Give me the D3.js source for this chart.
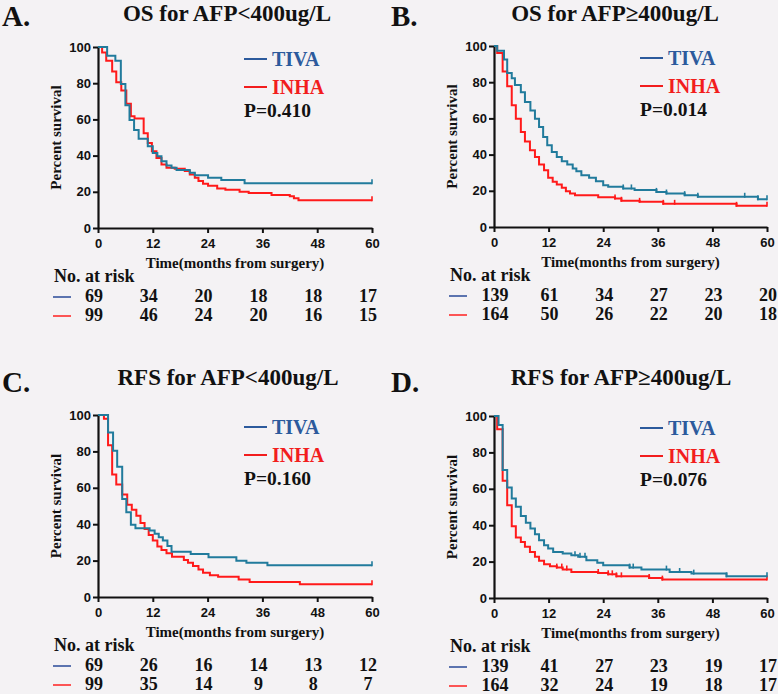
<!DOCTYPE html>
<html>
<head>
<meta charset="utf-8">
<script src="https://cdn.jsdelivr.net/npm/d3@7"></script>
<style>
  body { margin: 0; background: #f4f2f4; }
  svg { display: block; }
</style>
</head>
<body>
<div id="chart"></div>
<script>
var width  = 778;
var height = 694;

// Axis ticks shared by all four panels
var timeTicks = [0, 12, 24, 36, 48, 60];
var survTicks = [0, 20, 40, 60, 80, 100];
var groups = ["TIVA", "INHA"];

var panelLetters = ["A.", "B.", "C.", "D."];
var panelTitles = ["OS for AFP<400ug/L", "OS for AFP\u2265400ug/L",
                   "RFS for AFP<400ug/L", "RFS for AFP\u2265400ug/L"];
var pValues = ["P=0.410", "P=0.014", "P=0.160", "P=0.076"];

// Kaplan-Meier steps: [month, percent survival from that month on]
var osLowTiva = [[0,100],[2.0,95.1],[3.8,92.4],[5.0,79.6],[6.0,67.8],[6.9,59.6],
  [7.9,54.2],[8.9,49.3],[10.9,45.1],[12.0,41.5],[13.0,39.6],[13.9,36.9],[15.0,34.5],
  [16.1,33.3],[17.2,32.0],[20.1,30.5],[21.2,29.1],[24.1,27.8],[27.0,26.5],[32.1,24.7]];
var osLowInha = [[0,100],[0.9,96.9],[1.8,92.4],[3.1,86.5],[4.0,80.5],[5.1,76.0],
  [6.2,68.7],[7.2,61.8],[8.0,60.5],[10.0,52.4],[10.9,46.9],[11.8,42.4],[12.8,38.7],
  [13.9,35.1],[15.0,33.3],[16.8,32.7],[19.0,31.5],[20.1,29.6],[21.2,27.8],[22.0,26.0],
  [23.0,24.5],[24.1,23.3],[26.1,21.8],[27.9,21.1],[31.0,20.0],[33.0,19.3],[38.0,18.2],
  [42.0,17.5],[42.9,16.4],[43.9,15.3]];
var osHighTiva = [[0,100],[0.7,97.4],[2.2,92.5],[2.9,85.1],[3.9,82.2],[4.6,78.5],
  [5.9,74.5],[6.8,69.0],[8.0,64.4],[9.0,59.8],[9.9,55.2],[10.8,49.7],[11.7,45.1],
  [12.7,41.5],[13.8,38.7],[14.9,36.3],[16.1,34.5],[17.3,32.3],[18.1,30.8],[19.2,28.6],
  [20.9,27.2],[22.4,25.3],[24.0,23.1],[25.1,22.2],[28.4,21.3],[30.9,20.4],[35.7,19.4],
  [37.9,18.5],[41.9,17.6],[44.8,16.7],[58.0,15.4]];
var osHighInha = [[0,100],[0.7,96.1],[1.9,85.9],[2.9,77.8],[3.9,67.2],[4.8,59.8],
  [5.9,52.5],[6.8,47.3],[7.9,42.4],[9.0,38.7],[9.9,34.5],[11.0,31.4],[11.9,27.2],
  [12.9,25.0],[13.8,23.5],[14.9,21.7],[15.8,19.8],[16.7,18.5],[17.8,17.6],[22.9,16.5],
  [26.6,15.8],[28.0,14.5],[32.0,13.9],[37.2,12.8],[53.3,11.7]];
var rfsLowTiva = [[0,100],[2.2,90.4],[3.3,80.3],[4.2,71.6],[5.3,53.9],[6.2,46.5],
  [7.2,39.7],[8.2,37.8],[11.3,36.5],[12.4,34.7],[13.3,32.8],[14.2,31.0],[15.2,28.0],
  [16.1,24.9],[20.3,23.6],[24.2,21.8],[30.3,19.9],[32.5,18.8],[37.1,17.5]];
var rfsLowInha = [[0,100],[1.3,98.0],[2.2,83.4],[3.1,67.3],[4.0,61.8],[5.3,56.3],
  [6.4,50.7],[7.4,48.0],[8.4,44.6],[9.3,40.6],[10.2,37.3],[11.1,34.1],[12.0,31.0],
  [13.0,27.7],[13.9,25.8],[15.0,24.0],[16.2,22.1],[18.8,20.3],[19.7,18.8],[20.8,17.0],
  [22.0,15.1],[23.0,13.3],[24.5,12.0],[26.3,11.1],[30.8,9.6],[33.2,8.3],[44.2,7.0]];
var rfsHighTiva = [[0,100],[1.0,95.0],[1.9,70.3],[2.9,60.7],[3.9,54.7],[4.8,50.1],
  [5.9,45.0],[7.0,41.3],[8.0,38.2],[9.0,35.0],[9.9,31.7],[11.0,29.0],[11.9,27.2],
  [13.0,25.3],[15.1,24.4],[17.0,23.5],[18.5,22.6],[20.3,20.7],[22.7,19.3],[24.0,18.0],
  [29.8,16.7],[32.4,15.6],[38.6,14.3],[43.4,13.4],[51.1,11.9]];
var rfsHighInha = [[0,100],[0.7,92.7],[1.9,64.4],[2.9,51.0],[3.9,39.4],[4.8,33.2],
  [5.9,30.8],[6.8,28.1],[7.9,25.3],[9.0,22.6],[9.9,20.4],[11.0,18.5],[12.3,17.4],
  [13.8,16.7],[15.1,15.6],[17.0,14.3],[22.9,13.8],[25.1,13.0],[26.9,11.9],[34.1,11.0],
  [37.0,10.1]];

// Censoring marks (months)
var osLowTivaCens  = [60];
var osLowInhaCens  = [60];
var osHighTivaCens = [28.4, 30.2, 35.7, 37.9, 41.9, 44.8, 55.1, 58.0, 60];
var osHighInhaCens = [26.6, 28.0, 32.0, 37.2, 39.7, 53.3, 60];
var rfsLowTivaCens = [60];
var rfsLowInhaCens = [60];
var rfsHighTivaCens = [17.8, 18.9, 20.0, 29.8, 30.6, 37.9, 40.8, 43.9, 51.1, 60];
var rfsHighInhaCens = [13.8, 14.9, 16.0, 22.9, 25.1, 26.0, 26.9, 28.0, 34.1, 37.0, 60];

// Numbers at risk at each time tick
var osLowRisk   = [[69, 34, 20, 18, 18, 17], [99, 46, 24, 20, 16, 15]];
var osHighRisk  = [[139, 61, 34, 27, 23, 20], [164, 50, 26, 22, 20, 18]];
var rfsLowRisk  = [[69, 26, 16, 14, 13, 12], [99, 35, 14, 9, 8, 7]];
var rfsHighRisk = [[139, 41, 27, 23, 19, 17], [164, 32, 24, 19, 18, 17]];

var curveColor = ["#217b9c", "#ff1a1a"];
var legendColor = ["#2c5a9c", "#f21d1d"];
var riskColor = ["#2a4a98", "#ff2020"];

var serif = "'Liberation Serif', 'Times New Roman', serif";
var sans = "'Liberation Sans', Arial, sans-serif";

// Plot frames (pixels): left, right, top, bottom plus text placement
var panels = [
  { l: 98,  r: 372, t: 47,  b: 228, lx: 2,   ly: 26,  tx: 227, ty: 21,  ndx: -4,
    curves: [osLowTiva, osLowInha], cens: [osLowTivaCens, osLowInhaCens], risk: osLowRisk },
  { l: 494, r: 767, t: 46,  b: 227, lx: 391, ly: 26,  tx: 615, ty: 21,  ndx: 1,
    curves: [osHighTiva, osHighInha], cens: [osHighTivaCens, osHighInhaCens], risk: osHighRisk },
  { l: 98,  r: 372, t: 415, b: 597, lx: 2,   ly: 392, tx: 228, ty: 385, ndx: -4,
    curves: [rfsLowTiva, rfsLowInha], cens: [rfsLowTivaCens, rfsLowInhaCens], risk: rfsLowRisk },
  { l: 494, r: 767, t: 416, b: 598, lx: 391, ly: 392, tx: 621, ty: 385, ndx: 1,
    curves: [rfsHighTiva, rfsHighInha], cens: [rfsHighTivaCens, rfsHighInhaCens], risk: rfsHighRisk }
];

var svg = d3.select('#chart')
            .append('svg')
            .attr('width', width)
            .attr('height', height);

svg.append('rect')
   .attr('width', width)
   .attr('height', height)
   .attr('fill', '#f4f2f4');

function survivalAt(steps, t) {
  var s = steps[0][1];
  steps.forEach(function(d) { if (d[0] <= t) s = d[1]; });
  return s;
}

panels.forEach(function(p, i) {
  var x = d3.scaleLinear().domain([0, 60]).range([p.l, p.r]);
  var y = d3.scaleLinear().domain([0, 100]).range([p.b, p.t]);
  var g = svg.append('g');

  // Panel letter and title
  g.append('text')
   .attr('x', p.lx).attr('y', p.ly)
   .style('font', 'bold 29px ' + serif)
   .attr('fill', '#111')
   .text(panelLetters[i]);

  g.append('text')
   .attr('x', p.tx).attr('y', p.ty)
   .attr('text-anchor', 'middle')
   .style('font', 'bold 23px ' + serif)
   .attr('fill', '#111')
   .text(panelTitles[i]);

  // Axes
  var yAxis = g.append('g')
   .attr('transform', 'translate(' + p.l + ',0)')
   .call(d3.axisLeft(y).tickValues(survTicks).tickSize(5).tickSizeOuter(0).tickPadding(2));
  var xAxis = g.append('g')
   .attr('transform', 'translate(0,' + p.b + ')')
   .call(d3.axisBottom(x).tickValues(timeTicks).tickSize(5).tickSizeOuter(0).tickPadding(6));

  [yAxis, xAxis].forEach(function(a) {
    a.select('.domain').attr('stroke', '#111').attr('stroke-width', 2.2);
    a.selectAll('.tick line').attr('stroke', '#111').attr('stroke-width', 2);
    a.selectAll('.tick text')
     .style('font', 'bold 13px ' + sans)
     .attr('fill', '#111');
  });

  g.append('text')
   .attr('transform', 'translate(' + (p.l - 37) + ',' + ((p.t + p.b) / 2) + ')rotate(-90)')
   .attr('text-anchor', 'middle')
   .style('font', 'bold 15px ' + serif)
   .attr('fill', '#111')
   .text('Percent survival');

  g.append('text')
   .attr('x', (p.l + p.r) / 2).attr('y', p.b + 40)
   .attr('text-anchor', 'middle')
   .style('font', 'bold 15px ' + serif)
   .attr('fill', '#111')
   .text('Time(months from surgery)');

  // Survival curves, INHA first so TIVA sits on top
  var line = d3.line()
               .x(function(d) { return x(d[0]); })
               .y(function(d) { return y(d[1]); })
               .curve(d3.curveStepAfter);

  [1, 0].forEach(function(k) {
    var steps = p.curves[k];
    var pts = steps.concat([[60, steps[steps.length - 1][1]]]);
    g.append('path')
     .attr('d', line(pts))
     .attr('fill', 'none')
     .attr('stroke', curveColor[k])
     .attr('stroke-width', 2);

    g.selectAll(null)
     .data(p.cens[k])
     .enter()
     .append('line')
     .attr('x1', function(t) { return x(t); })
     .attr('x2', function(t) { return x(t); })
     .attr('y1', function(t) { return y(survivalAt(steps, t)) - 4; })
     .attr('y2', function(t) { return y(survivalAt(steps, t)) + 1; })
     .attr('stroke', curveColor[k])
     .attr('stroke-width', 1.6);
  });

  // Legend and p value
  groups.forEach(function(name, k) {
    var ly = p.t + 12 + k * 28;
    g.append('line')
     .attr('x1', p.l + 146).attr('x2', p.l + 169)
     .attr('y1', ly).attr('y2', ly)
     .attr('stroke', legendColor[k])
     .attr('stroke-width', 2);
    g.append('text')
     .attr('x', p.l + 174).attr('y', ly + 7)
     .style('font', 'bold 20px ' + serif)
     .attr('fill', legendColor[k])
     .text(name);
  });

  g.append('text')
   .attr('x', p.l + 146).attr('y', p.t + 70)
   .style('font', 'bold 19.5px ' + serif)
   .attr('fill', '#111')
   .text(pValues[i]);

  // Number at risk table
  g.append('text')
   .attr('x', p.l - 44).attr('y', p.b + 54)
   .style('font', 'bold 18px ' + serif)
   .attr('fill', '#111')
   .text('No. at risk');

  p.risk.forEach(function(row, k) {
    var ry = p.b + 74 + k * 19;
    g.append('line')
     .attr('x1', p.l - 45).attr('x2', p.l - 27)
     .attr('y1', ry - 5).attr('y2', ry - 5)
     .attr('stroke', riskColor[k])
     .attr('stroke-width', 1.5);
    g.selectAll(null)
     .data(row)
     .enter()
     .append('text')
     .attr('x', function(d, j) { return x(timeTicks[j]) + p.ndx; })
     .attr('y', ry)
     .attr('text-anchor', 'middle')
     .style('font', 'bold 18px ' + serif)
     .attr('fill', '#111')
     .text(function(d) { return d; });
  });
});
</script>
</body>
</html>
